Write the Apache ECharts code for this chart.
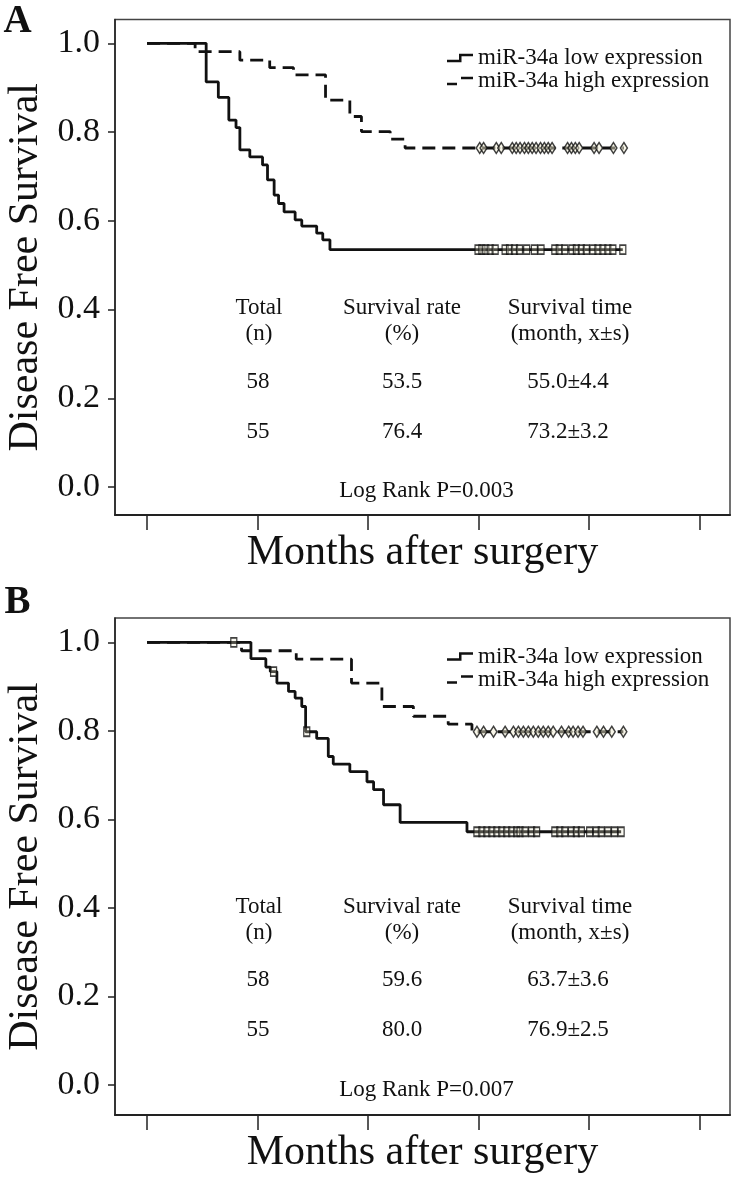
<!DOCTYPE html>
<html><head><meta charset="utf-8">
<script src="https://cdn.jsdelivr.net/npm/echarts@6/dist/echarts.min.js"></script>
<style>html,body{margin:0;padding:0;background:#fff}#c{width:736px;height:1178px}</style>
</head><body><div id="c"></div>
<script>
// ---------- data ----------
const lowName = 'miR-34a low expression';
const highName = 'miR-34a high expression';
const panelLabels = ['A', 'B'];
const yTicks = [0, 0.2, 0.4, 0.6, 0.8, 1.0];
const xTicks = [0, 20, 40, 60, 80, 100];
const yTitle = 'Disease Free Survival';
const xTitle = 'Months after surgery';

// Panel A (months, survival)
const A_lowTimes = [0, 10.7, 12.9, 14.8, 16.1, 16.8, 18.6, 20.9, 21.8, 23.0, 23.8, 24.8, 26.8, 28.0, 30.7, 31.8, 33.1, 86.1];
const A_lowSurv  = [1.0, 0.913, 0.878, 0.827, 0.810, 0.760, 0.744, 0.726, 0.692, 0.658, 0.639, 0.620, 0.602, 0.588, 0.572, 0.557, 0.535, 0.535];
const A_highTimes = [0, 8.7, 16.8, 22.2, 26.5, 32.3, 36.7, 38.8, 44.0, 46.7, 86.3];
const A_highSurv  = [1.0, 0.981, 0.962, 0.945, 0.929, 0.872, 0.835, 0.801, 0.784, 0.764, 0.764];
const A_lowCensor  = [59.9, 60.6, 61.3, 62.1, 63.0, 64.8, 65.6, 66.5, 67.4, 68.7, 70.1, 71.3, 73.8, 74.6, 75.6, 76.9, 77.7, 78.6, 79.5, 80.7, 81.6, 82.5, 83.4, 84.3, 86.1];
const A_highCensor = [60.2, 60.9, 63.2, 64.1, 66.1, 66.8, 67.5, 68.3, 69.0, 69.7, 70.4, 71.2, 71.9, 72.6, 73.3, 76.1, 76.8, 77.5, 78.2, 80.9, 81.8, 84.4, 86.3];
const A_total = ['58', '55'];
const A_rate  = ['53.5', '76.4'];
const A_time  = ['55.0±4.4', '73.2±3.2'];
const A_p = '0.003';

// Panel B
const B_lowTimes = [0, 18.8, 21.5, 22.3, 23.5, 25.6, 26.8, 28.0, 28.7, 30.7, 32.8, 33.7, 36.7, 39.8, 41.0, 42.8, 45.8, 57.9, 85.8];
const B_lowSurv  = [1.0, 0.963, 0.944, 0.934, 0.908, 0.889, 0.874, 0.855, 0.798, 0.783, 0.742, 0.725, 0.708, 0.685, 0.667, 0.633, 0.593, 0.572, 0.572];
const B_highTimes = [0, 17.1, 27.0, 37.0, 42.5, 48.2, 54.5, 58.8, 86.2];
const B_highSurv  = [1.0, 0.981, 0.962, 0.908, 0.855, 0.833, 0.815, 0.798, 0.798];
const B_lowCensor  = [15.7, 22.9, 28.9, 59.7, 60.6, 61.5, 62.4, 63.3, 64.2, 65.1, 66.0, 66.9, 67.5, 68.4, 69.6, 70.5, 73.8, 74.7, 75.6, 76.8, 77.7, 78.6, 80.1, 81.3, 82.2, 83.4, 84.6, 85.8];
const B_highCensor = [59.7, 60.9, 62.7, 64.8, 66.3, 67.2, 68.1, 69.0, 69.9, 70.8, 71.7, 72.6, 73.5, 75.0, 76.3, 77.1, 78.0, 78.9, 81.4, 82.6, 84.1, 86.2];
const B_total = ['58', '55'];
const B_rate  = ['59.6', '80.0'];
const B_time  = ['63.7±3.6', '76.9±2.5'];
const B_p = '0.007';

const tableHead1 = ['Total', 'Survival rate', 'Survival time'];
const tableHead2 = ['(n)', '(%)', '(month, x±s)'];

// ---------- layout ----------
const FONT = '"Liberation Serif", "Times New Roman", serif';
const INK = '#111';
const panels = [
  { label: 'A', top: 19.5, height: 495.5, yMin: -0.063, yMax: 1.0536, labelY: 22,
    lowT: A_lowTimes, lowS: A_lowSurv, highT: A_highTimes, highS: A_highSurv,
    lowC: A_lowCensor, highC: A_highCensor, total: A_total, rate: A_rate, time: A_time, p: A_p },
  { label: 'B', top: 618, height: 497, yMin: -0.068, yMax: 1.055, labelY: 603,
    lowT: B_lowTimes, lowS: B_lowSurv, highT: B_highTimes, highS: B_highSurv,
    lowC: B_lowCensor, highC: B_highCensor, total: B_total, rate: B_rate, time: B_time, p: B_p }
];
const colX = [259, 402, 570];

function stepValue(times, surv, t) {
  let v = surv[0];
  for (let i = 0; i < times.length; i++) if (times[i] <= t) v = surv[i];
  return v;
}
function zip(a, b) { return a.map((x, i) => [x, b[i]]); }

const grid = [], xAxis = [], yAxis = [], series = [], legend = [], graphic = [];
const lowIcon = 'path://M0,6 H12 V0 H26 V2.5 H14.5 V8.5 H0 Z';
const highIcon = 'path://M0,6 H10 V8.5 H0 Z M14,0 H26 V2.5 H14 Z';

panels.forEach((p, i) => {
  grid.push({ left: 115, top: p.top, width: 615, height: p.height, show: true,
    outerBoundsMode: 'none', containLabel: false,
    borderColor: '#444', borderWidth: 1.5, backgroundColor: 'transparent' });
  xAxis.push({ type: 'value', gridIndex: i, min: -5.8, max: 105.5,
    axisLine: { show: true, onZero: false, lineStyle: { color: '#222', width: 2 } },
    axisTick: { show: true, customValues: xTicks, length: 15, lineStyle: { color: '#222', width: 1.5 } },
    axisLabel: { show: false, customValues: xTicks },
    splitLine: { show: false },
    name: xTitle, nameLocation: 'middle', nameGap: 17,
    nameTextStyle: { fontFamily: FONT, fontSize: 42, color: INK } });
  yAxis.push({ type: 'value', gridIndex: i, min: p.yMin, max: p.yMax,
    axisLine: { show: true, onZero: false, lineStyle: { color: '#222', width: 1.5 } },
    axisTick: { show: true, customValues: yTicks, length: 7, lineStyle: { color: '#222', width: 1.5 } },
    axisLabel: { show: true, customValues: yTicks, margin: 15, fontFamily: FONT, fontSize: 34, color: INK,
      formatter: v => Number(v).toFixed(1) },
    splitLine: { show: false },
    name: yTitle, nameLocation: 'middle', nameRotate: 90, nameGap: 67,
    nameTextStyle: { fontFamily: FONT, fontSize: 42, color: INK } });

  series.push({ name: lowName, type: 'line', xAxisIndex: i, yAxisIndex: i, step: 'end',
    symbol: 'none', showSymbol: false, data: zip(p.lowT, p.lowS),
    lineStyle: { color: INK, width: 2.8 }, itemStyle: { color: INK }, z: 2 });
  series.push({ name: highName, type: 'line', xAxisIndex: i, yAxisIndex: i, step: 'end',
    symbol: 'none', showSymbol: false, data: zip(p.highT, p.highS),
    lineStyle: { color: INK, width: 2.8, type: [13, 7] }, itemStyle: { color: INK }, z: 2 });
  series.push({ name: 'low censored', type: 'scatter', xAxisIndex: i, yAxisIndex: i,
    symbol: 'rect', symbolSize: [6, 9],
    data: p.lowC.map(t => [t, stepValue(p.lowT, p.lowS, t)]),
    itemStyle: { color: 'rgba(240,236,210,0.35)', borderColor: INK, borderWidth: 1.5 }, z: 3 });
  series.push({ name: 'high censored', type: 'scatter', xAxisIndex: i, yAxisIndex: i,
    symbol: 'diamond', symbolSize: [7, 11],
    data: p.highC.map(t => [t, stepValue(p.highT, p.highS, t)]),
    itemStyle: { color: 'rgba(240,236,210,0.6)', borderColor: INK, borderWidth: 1.5 }, z: 3 });

  legend.push({ orient: 'vertical', left: 447, top: p.top + 27, padding: 0, itemGap: 0,
    itemWidth: 26, itemHeight: 8.5, selectedMode: false,
    itemStyle: { color: INK, borderWidth: 0 },
    textStyle: { fontFamily: FONT, fontSize: 23, color: INK, lineHeight: 20 },
    data: [{ name: lowName, icon: lowIcon }, { name: highName, icon: highIcon }] });

  const txt = (x, y, s, size) => graphic.push({ type: 'text', x, y,
    style: { text: s, fontFamily: FONT, fontSize: size, fill: INK, align: 'center', verticalAlign: 'middle' } });
  txt(17.5, p.labelY, p.label, 39);
  graphic[graphic.length - 1].style.fontWeight = 'bold';
  tableHead1.forEach((s, k) => txt(colX[k], p.top + 288.5, s, 23));
  tableHead2.forEach((s, k) => txt(colX[k], p.top + 314.5, s, 23));
  [0, 1].forEach(r => {
    const y = p.top + (r === 0 ? 362 : 412);
    txt(colX[0] - 1, y, p.total[r], 23);
    txt(colX[1], y, p.rate[r], 23);
    txt(colX[2] - 2, y, p.time[r], 23);
  });
  txt(426.5, p.top + 471.5, 'Log Rank P=' + p.p, 23);
});

const chart = echarts.init(document.getElementById('c'), null, { renderer: 'canvas' });
chart.setOption({ animation: false, backgroundColor: '#fff', grid, xAxis, yAxis, series, legend, graphic });
</script>
</body></html>
